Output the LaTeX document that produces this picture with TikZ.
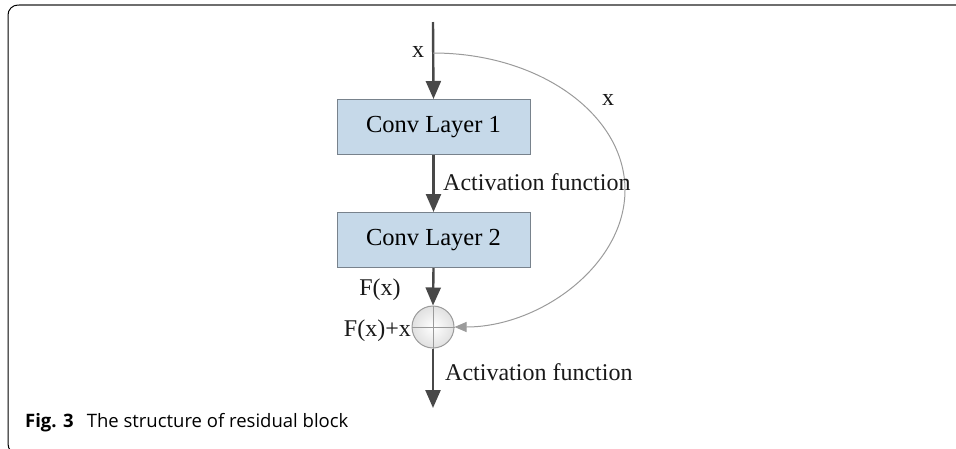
\documentclass[tikz,border=0pt]{standalone}
\usepackage{fontspec}
\setmainfont{Liberation Serif}
\newfontfamily\capfont{Open Sans}
\usetikzlibrary{arrows.meta}
\definecolor{boxfill}{RGB}{198,217,233}
\definecolor{boxline}{RGB}{120,130,140}
\definecolor{arrowc}{RGB}{72,72,72}
\definecolor{skipc}{RGB}{155,155,155}
\definecolor{framec}{RGB}{110,110,110}
\tikzset{
  layerbox/.style={draw=boxline, line width=1pt, fill=boxfill, minimum width=193pt, minimum height=55pt, inner sep=0pt, font=\fontsize{24.5}{28}\selectfont},
  mainarrow/.style={draw=arrowc, line width=2.4pt, -{Triangle[length=18pt,width=15pt]}},
  skiparrow/.style={draw=skipc, line width=1pt, -{Triangle[length=12pt,width=10pt]}},
  lbl/.style={font=\fontsize{24}{28}\selectfont, inner sep=0pt, text=black!90},
  sumnode/.style={circle, draw=skipc, line width=1pt, inner color=white, outer color=black!12, minimum size=42pt, inner sep=0pt},
}
\begin{document}
\begin{tikzpicture}[x=1pt,y=-1pt]
\useasboundingbox (0,0) rectangle (956,448);
\begin{scope}
\clip (0,0) rectangle (956,448);
% frame
\draw[black, line width=1pt, rounded corners=10pt] (956,5) -- (8,5) -- (8,454) -- (24,454);
\draw[framec, line width=2pt] (956,5) -- (19,5);
\end{scope}
% nodes
\coordinate (top) at (433,22);
\coordinate (split) at (433,53);
\node[layerbox] (c1) at (433.5,127) {Conv Layer 1};
\node[layerbox] (c2) at (433.5,240) {Conv Layer 2};
\node[sumnode] (sum) at (433,327) {};
\draw[skipc, line width=0.8pt] (sum.north) -- (sum.south) (sum.west) -- (sum.east);
\coordinate (out) at (433,408);
\coordinate (far) at (625,190);
% arrows
\draw[mainarrow] (top) -- (c1.north);
\draw[mainarrow] (c1.south) -- (c2.north);
\draw[mainarrow] (c2.south) -- (sum.north);
\draw[mainarrow] (sum.south) -- (out);
\draw[skiparrow] (split) .. controls (540,53) and (625,115) .. (far) .. controls (625,265) and (540,327) .. (sum.east);
% labels
\node[lbl] (lx1) at (418,52) {x};
\node[lbl] (lx2) at (608,100) {x};
\node[lbl, anchor=west] (la1) at (443,182) {Activation function};
\node[lbl] (lf) at (380,290) {F(x)};
\node[lbl, anchor=east] (lfx) at (411,331) {F(x)+x};
\node[lbl, anchor=west] (la2) at (445,372) {Activation function};
\node[anchor=base west, inner sep=0pt, font=\capfont\fontsize{18.5}{22}\selectfont] (cap) at (25,427) {\textbf{Fig. 3}\hspace{0.45em} The structure of residual block};
\end{tikzpicture}
\end{document}
